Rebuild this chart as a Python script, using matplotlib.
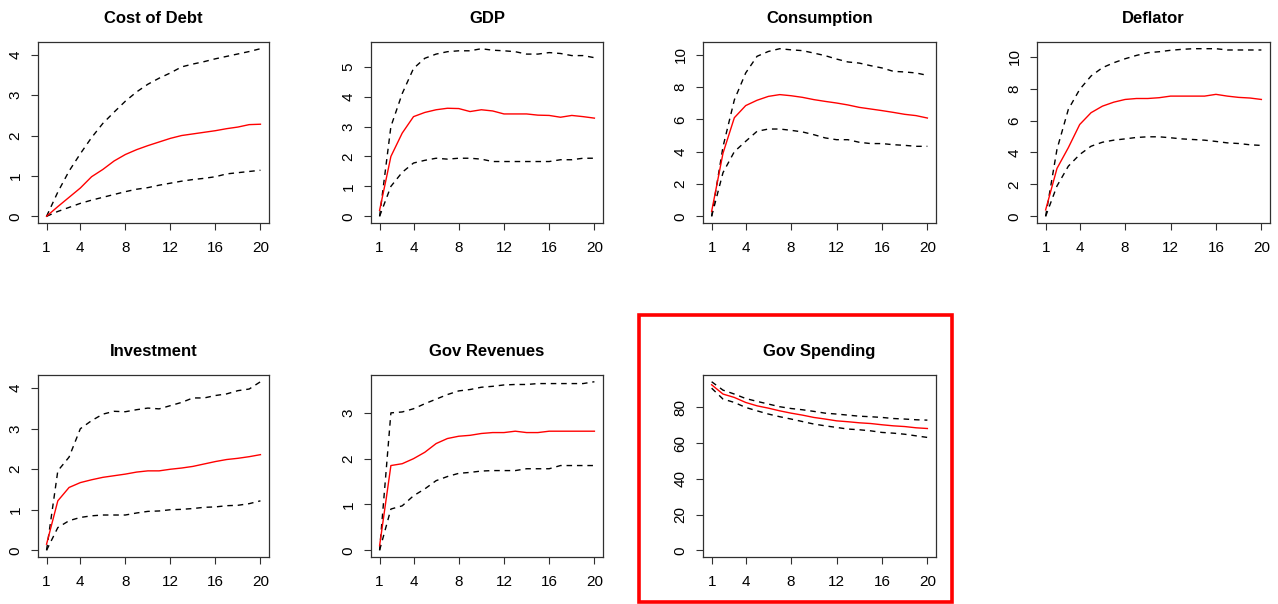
import numpy as np
import matplotlib
matplotlib.use("Agg")
import matplotlib.pyplot as plt
from matplotlib.patches import Rectangle

plt.rcParams['font.family'] = ['Liberation Sans', 'DejaVu Sans']

# horizon
h = np.arange(1, 21)

titles = ['Cost of Debt', 'GDP', 'Consumption', 'Deflator',
          'Investment', 'Gov Revenues', 'Gov Spending']

# median response (red) and bands (dashed)
debt_mid = [0, 0.24, 0.47, 0.70, 0.98, 1.16, 1.37, 1.53, 1.65, 1.75,
            1.84, 1.93, 2.0, 2.04, 2.08, 2.12, 2.17, 2.21, 2.27, 2.28]
debt_hi = [0, 0.6, 1.12, 1.55, 1.95, 2.3, 2.58, 2.85, 3.08, 3.27,
           3.42, 3.55, 3.7, 3.77, 3.83, 3.9, 3.96, 4.02, 4.08, 4.15]
debt_lo = [0, 0.12, 0.22, 0.32, 0.40, 0.47, 0.54, 0.61, 0.67, 0.71,
           0.77, 0.82, 0.87, 0.91, 0.94, 0.98, 1.05, 1.08, 1.11, 1.14]

gdp_mid = [0.2, 2.0, 2.78, 3.33, 3.47, 3.56, 3.61, 3.6, 3.5, 3.56,
           3.52, 3.42, 3.42, 3.42, 3.38, 3.37, 3.31, 3.37, 3.33, 3.28]
gdp_hi = [0, 3.0, 4.1, 4.94, 5.28, 5.42, 5.5, 5.53, 5.53, 5.6,
          5.55, 5.53, 5.5, 5.42, 5.42, 5.47, 5.44, 5.37, 5.37, 5.3]
gdp_lo = [0, 1.0, 1.47, 1.78, 1.87, 1.94, 1.91, 1.94, 1.94, 1.91,
          1.83, 1.83, 1.83, 1.83, 1.83, 1.83, 1.89, 1.89, 1.94, 1.94]

cons_mid = [0.3, 3.9, 6.1, 6.85, 7.18, 7.42, 7.53, 7.46, 7.36, 7.22,
            7.11, 7.01, 6.89, 6.74, 6.64, 6.54, 6.43, 6.31, 6.23, 6.08]
cons_hi = [0, 4.3, 7.2, 8.87, 9.9, 10.2, 10.37, 10.3, 10.25, 10.1,
           9.94, 9.73, 9.55, 9.48, 9.32, 9.18, 8.97, 8.93, 8.87, 8.72]
cons_lo = [0, 2.7, 4.0, 4.64, 5.26, 5.4, 5.4, 5.32, 5.22, 5.05,
           4.85, 4.74, 4.74, 4.58, 4.5, 4.5, 4.43, 4.39, 4.33, 4.33]

defl_mid = [0.4, 3.0, 4.3, 5.75, 6.49, 6.9, 7.15, 7.32, 7.38, 7.38,
            7.43, 7.53, 7.53, 7.53, 7.53, 7.64, 7.53, 7.45, 7.41, 7.32]
defl_hi = [0, 4.2, 6.7, 7.95, 8.79, 9.31, 9.62, 9.87, 10.08, 10.25,
           10.31, 10.4, 10.46, 10.5, 10.5, 10.5, 10.42, 10.42, 10.42, 10.42]
defl_lo = [0, 1.9, 3.14, 3.87, 4.39, 4.64, 4.77, 4.85, 4.94, 4.98,
           4.98, 4.92, 4.85, 4.81, 4.77, 4.69, 4.6, 4.56, 4.48, 4.44]

inv_mid = [0.15, 1.22, 1.55, 1.67, 1.74, 1.8, 1.84, 1.88, 1.93, 1.96,
           1.96, 2.0, 2.03, 2.07, 2.13, 2.19, 2.24, 2.27, 2.31, 2.36]
inv_hi = [0, 1.96, 2.3, 3.0, 3.2, 3.36, 3.43, 3.42, 3.47, 3.51,
          3.49, 3.57, 3.65, 3.76, 3.76, 3.82, 3.86, 3.94, 3.98, 4.16]
inv_lo = [0, 0.56, 0.73, 0.81, 0.85, 0.87, 0.87, 0.87, 0.92, 0.96,
          0.97, 1.0, 1.01, 1.03, 1.06, 1.07, 1.1, 1.11, 1.15, 1.22]

rev_mid = [0.1, 1.85, 1.89, 2.0, 2.14, 2.33, 2.44, 2.49, 2.51, 2.55,
           2.57, 2.57, 2.6, 2.57, 2.57, 2.6, 2.6, 2.6, 2.6, 2.6]
rev_hi = [0, 3.0, 3.02, 3.09, 3.2, 3.3, 3.4, 3.48, 3.51, 3.56,
          3.58, 3.61, 3.62, 3.62, 3.64, 3.64, 3.64, 3.64, 3.64, 3.68]
rev_lo = [0, 0.9, 0.97, 1.19, 1.34, 1.52, 1.61, 1.68, 1.7, 1.73,
          1.74, 1.74, 1.74, 1.78, 1.78, 1.78, 1.85, 1.85, 1.85, 1.85]

spend_mid = [92.7, 87.5, 85.6, 82.8, 80.9, 79.6, 78.1, 76.8, 75.7, 74.4,
             73.5, 72.5, 72.0, 71.4, 71.0, 70.3, 69.7, 69.3, 68.6, 68.2]
spend_hi = [94.4, 89.7, 87.5, 85.0, 83.4, 81.9, 80.4, 79.4, 78.7, 77.8,
            76.8, 76.3, 75.7, 75.1, 74.8, 74.4, 73.8, 73.5, 73.1, 72.9]
spend_lo = [90.8, 84.7, 82.8, 80.0, 78.1, 76.3, 74.8, 73.5, 72.1, 70.7,
            69.7, 68.8, 67.9, 67.5, 66.9, 66.0, 65.6, 65.0, 64.1, 63.2]

mids = [debt_mid, gdp_mid, cons_mid, defl_mid, inv_mid, rev_mid, spend_mid]
his = [debt_hi, gdp_hi, cons_hi, defl_hi, inv_hi, rev_hi, spend_hi]
los = [debt_lo, gdp_lo, cons_lo, defl_lo, inv_lo, rev_lo, spend_lo]
ytick_steps = [1, 1, 2, 2, 1, 1, 20]
xticks = [1, 4, 8, 12, 16, 20]

W, H = 1278, 604
# axes boxes in pixels: left, top, right, bottom
boxes = [(38, 42, 269, 223), (371, 42, 603, 223), (703, 42, 936, 223),
         (1037, 42, 1270, 223), (38, 375, 269, 557), (371, 375, 603, 557),
         (703, 375, 936, 557)]

fig = plt.figure(figsize=(W / 100, H / 100), dpi=100)
edge = '#303030'

for i in range(7):
    l, t, r, b = boxes[i]
    ax = fig.add_axes([l / W, 1 - b / H, (r - l) / W, (b - t) / H])
    ax.plot(h, his[i], color='black', lw=1.0, dashes=(4, 3.5))
    ax.plot(h, los[i], color='black', lw=1.0, dashes=(4, 3.5))
    ax.plot(h, mids[i], color='red', lw=1.0)

    lo = min(0, min(los[i]), min(mids[i]))
    hi = max(max(his[i]), max(mids[i]))
    pad = 0.04 * (hi - lo)
    ax.set_ylim(lo - pad, hi + pad)
    ax.set_xlim(1 - 0.04 * 19, 20 + 0.04 * 19)
    step = ytick_steps[i]
    ax.set_yticks(np.arange(0, hi + 1e-9, step))
    ax.set_xticks(xticks)
    ax.tick_params(axis='both', direction='out', length=5, width=0.8,
                   color=edge, labelsize=11, labelcolor='black')
    ax.tick_params(axis='x', pad=8)
    ax.tick_params(axis='y', pad=6)
    for lab in ax.get_yticklabels():
        lab.set_rotation(90)
        lab.set_va('center')
    for s in ax.spines.values():
        s.set_color(edge)
        s.set_linewidth(0.9)
    ax.set_title(titles[i], fontsize=12, fontweight='bold', pad=14)

# red highlight frame around the last panel
fig.patches.append(Rectangle((639 / W, 1 - 602 / H), (952 - 639) / W,
                             (602 - 315) / H, transform=fig.transFigure,
                             fill=False, edgecolor='red', lw=2.6))

fig.savefig('out.png', dpi=100, facecolor='white')
